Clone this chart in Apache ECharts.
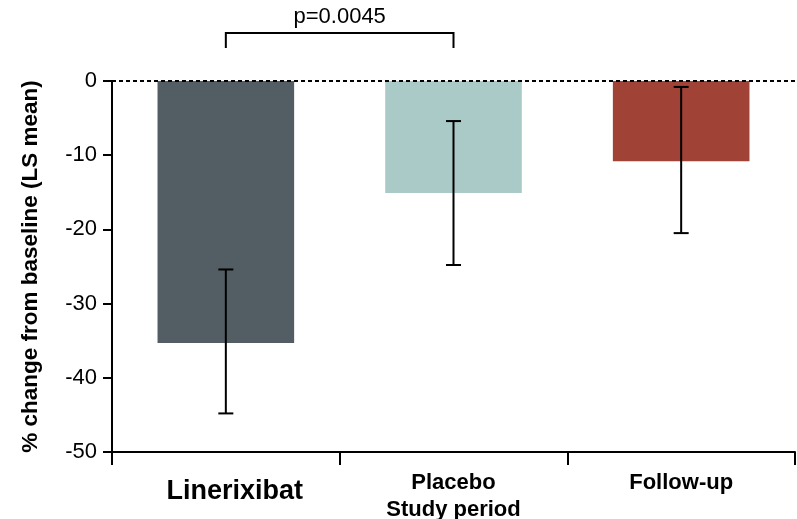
<!DOCTYPE html>
<html>
<head>
<meta charset="utf-8">
<script src="https://cdn.jsdelivr.net/npm/echarts@6/dist/echarts.min.js"></script>
<style>
  html, body { margin: 0; padding: 0; background: #fff; }
  #chart { width: 797px; height: 519px; }
</style>
</head>
<body>
<div id="chart"></div>
<script>
// Groups, LS mean % change and error bar limits
const categories = ['Linerixibat', 'Placebo\nStudy period', 'Follow-up'];
const lsMean = [-35.3, -15.1, -10.8];
const errUpper = [-25.4, -5.4, -0.8];
const errLower = [-44.8, -24.8, -20.5];
const barColors = ['#525E63', '#A9CAC7', '#A04236'];
const yTicks = [-50, -40, -30, -20, -10, 0];
const pValueLabel = 'p=0.0045';
const comparison = [0, 1];

const chart = echarts.init(document.getElementById('chart'));
const FONT = '"Liberation Sans", Arial, sans-serif';

chart.setOption({
  animation: false,
  grid: { left: 112, right: 2, top: 81, bottom: 67, containLabel: false, outerBoundsMode: 'none' },
  xAxis: {
    type: 'category',
    data: categories,
    axisLine: { onZero: false, lineStyle: { color: '#000', width: 2 } },
    axisTick: { show: true, length: 13, lineStyle: { color: '#000', width: 2 } },
    axisLabel: {
      margin: 17,
      color: '#000',
      fontFamily: FONT,
      fontWeight: 'bold',
      fontSize: 22,
      lineHeight: 27,
      formatter: function (v, i) {
        return i === 0 ? '{big|' + v + '}' : v;
      },
      rich: {
        big: { fontSize: 27, fontWeight: 'bold', fontFamily: FONT, color: '#000', padding: [19, 0, 0, 18] }
      }
    }
  },
  yAxis: {
    type: 'value',
    min: yTicks[0],
    max: yTicks[yTicks.length - 1],
    interval: 10,
    name: '% change from baseline (LS mean)',
    nameLocation: 'middle',
    nameGap: 70,
    nameTextStyle: { color: '#000', fontFamily: FONT, fontWeight: 'bold', fontSize: 22.5 },
    axisLine: { show: true, onZero: false, lineStyle: { color: '#000', width: 2 } },
    axisTick: { show: true, length: 9, lineStyle: { color: '#000', width: 2 } },
    axisLabel: { margin: 15, color: '#000', fontFamily: FONT, fontSize: 22 },
    splitLine: { show: false }
  },
  series: [
    {
      type: 'bar',
      data: lsMean.map((v, i) => ({ value: v, itemStyle: { color: barColors[i] } })),
      barWidth: '60%',
      z: 2
    },
    {
      // error bars, plus the dotted zero reference line drawn over the bars
      type: 'custom',
      data: errUpper.map((u, i) => [i, u, errLower[i]]),
      z: 5,
      markLine: {
        silent: true,
        symbol: 'none',
        label: { show: false },
        lineStyle: { color: '#000', type: [4, 3], width: 2, opacity: 1 },
        data: [{ yAxis: 0 }]
      },
      renderItem: function (params, api) {
        const top = api.coord([api.value(0), api.value(1)]);
        const bot = api.coord([api.value(0), api.value(2)]);
        const cap = 7.5;
        const style = { stroke: '#000', lineWidth: 2 };
        return {
          type: 'group',
          children: [
            { type: 'line', shape: { x1: top[0], y1: top[1], x2: bot[0], y2: bot[1] }, style },
            { type: 'line', shape: { x1: top[0] - cap, y1: top[1], x2: top[0] + cap, y2: top[1] }, style },
            { type: 'line', shape: { x1: bot[0] - cap, y1: bot[1], x2: bot[0] + cap, y2: bot[1] }, style }
          ]
        };
      }
    },
    {
      // significance bracket between the two study-period groups
      type: 'custom',
      data: [[comparison[0], comparison[1], 0]],
      clip: false,
      z: 6,
      renderItem: function (params, api) {
        const a = api.coord([api.value(0), api.value(2)]);
        const b = api.coord([api.value(1), api.value(2)]);
        const yTop = a[1] - 48;
        const yLeg = a[1] - 33;
        const style = { stroke: '#000', lineWidth: 2, fill: null };
        return {
          type: 'group',
          children: [
            { type: 'polyline', shape: { points: [[a[0], yLeg], [a[0], yTop], [b[0], yTop], [b[0], yLeg]] }, style },
            {
              type: 'text',
              style: {
                text: pValueLabel,
                x: (a[0] + b[0]) / 2,
                y: yTop - 5,
                align: 'center',
                verticalAlign: 'bottom',
                fill: '#000',
                font: '22px ' + FONT
              }
            }
          ]
        };
      }
    }
  ]
});
</script>
</body>
</html>
